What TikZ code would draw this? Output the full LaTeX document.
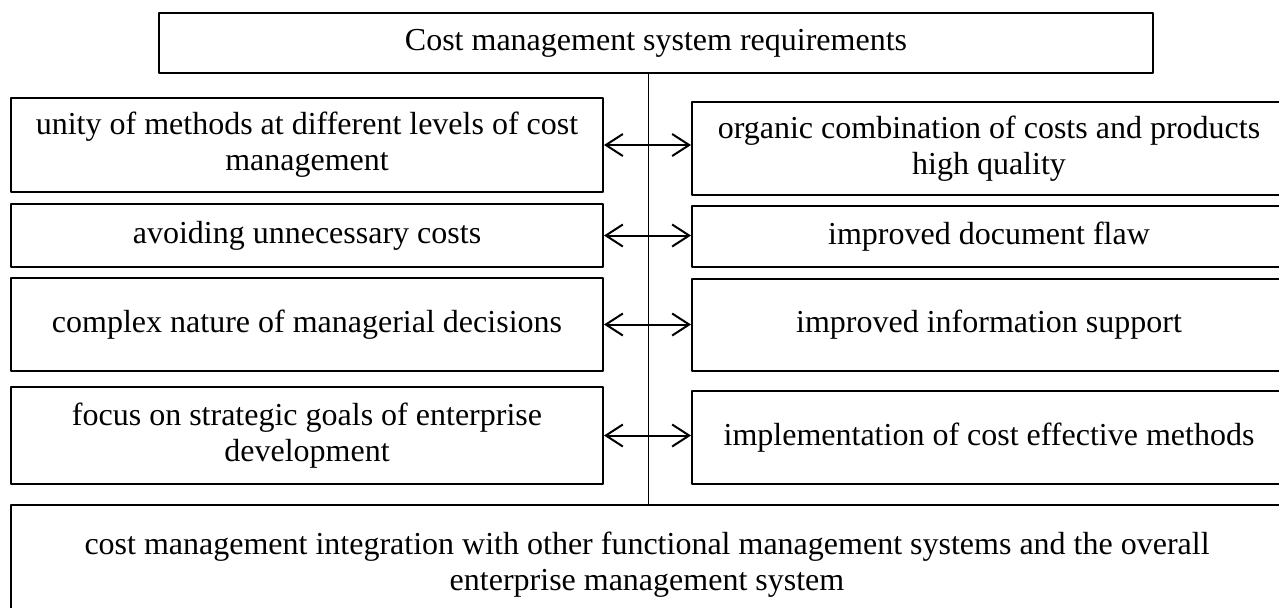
\documentclass[tikz,border=0pt]{standalone}
\usepackage{fontspec}
\setmainfont{Liberation Serif}
\usetikzlibrary{arrows.meta}
\begin{document}
\begin{tikzpicture}[x=0.5pt,y=-0.5pt,line join=round]
        \tikzset{
                req/.style={draw,line width=1pt,inner sep=0pt,align=center,
                        font=\fontsize{16}{18}\selectfont},
                leftreq/.style={req,minimum width=296pt},
                rightreq/.style={req,minimum width=297pt},
                biarrow/.style={line width=1pt,{Straight Barb[length=8.5pt,width=11pt]}-{Straight Barb[length=8.5pt,width=11pt]}},
                spine/.style={line width=0.5pt}
        }
        \useasboundingbox (0,0) rectangle (1279,607);
        \clip (0,0) rectangle (1279,607);
        \coordinate (axis) at (648,0);
        % head
        \node[req,minimum width=497pt,minimum height=30pt] (head) at (656,43) {Cost management system requirements};
        % left column
        \node[leftreq,minimum height=47pt] (unity) at (307,145) {unity of methods at different levels of cost\\management};
        \node[leftreq,minimum height=31.5pt] (avoid) at (307,235.5) {avoiding unnecessary costs};
        \node[leftreq,minimum height=46.5pt] (complex) at (307,324.5) {complex nature of managerial decisions};
        \node[leftreq,minimum height=48.5pt] (focus) at (307,435.5) {focus on strategic goals of enterprise\\development};
        % right column
        \node[rightreq,minimum height=46.5pt] (organic) at (989,148.5) {organic combination of costs and products\\high quality};
        \node[rightreq,minimum height=30.5pt] (docflow) at (989,236.5) {improved document flaw};
        \node[rightreq,minimum height=46pt] (info) at (989,325) {improved information support};
        \node[rightreq,minimum height=46.5pt] (effect) at (989,437.5) {implementation of cost effective methods};
        % bottom
        \node[req,minimum width=636pt,minimum height=59.5pt] (integr) at (647,564.5) {cost management integration with other functional management systems and the overall\\enterprise management system};
        \draw[spine] (head.south -| axis) -- (integr.north -| axis);
        \foreach \l/\r in {unity/organic,avoid/docflow,complex/info,focus/effect}
                \draw[biarrow] (\l.east) -- (\l.east -| \r.west);
\end{tikzpicture}
\end{document}
